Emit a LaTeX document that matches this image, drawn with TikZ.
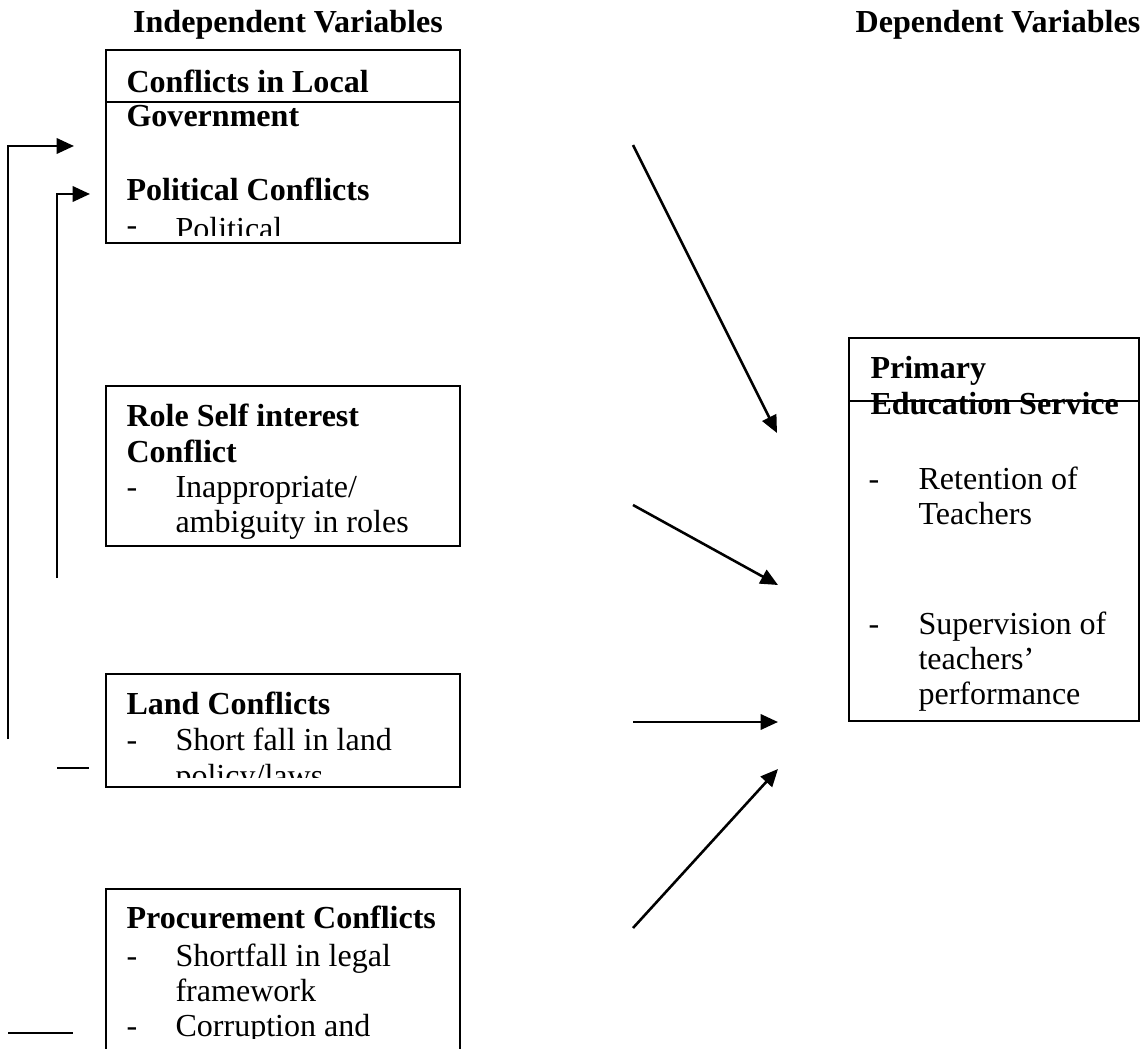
\documentclass[tikz,border=0pt]{standalone}
\usepackage{fontspec}
\setmainfont{Liberation Serif}
\usetikzlibrary{arrows.meta}
\usetikzlibrary{calc}

\def\px{0.39pt}
\tikzstyle{varbox}=[draw, line width=0.8pt, anchor=north west, inner sep=0pt, minimum width=354*\px]
\tikzstyle{txt}=[anchor=base west, inner sep=0pt, font=\fontsize{12.5}{14}\selectfont]
\tikzstyle{head}=[anchor=base, inner sep=0pt, font=\fontsize{12.5}{14}\selectfont\bfseries]
\tikzstyle{link}=[line width=1pt, -{Triangle[length=6.8pt,width=6pt]}]
\tikzstyle{plain}=[line width=1pt]

\begin{document}
\begin{tikzpicture}[x=\px, y=-\px]
\clip (0,0) rectangle (1147,1049);

%Headings
\node[head] (indep) at (288,33) {Independent Variables};
\node[head] (dep) at (998,33) {Dependent Variables};

%Boxes
\foreach \pos/\name/\h in {{(105,49)/conf/193}, {(105,385)/role/160}, {(105,673)/land/113}, {(105,888)/proc/180}}
    \node[varbox, minimum height=\h*\px] (\name) at \pos {};
\node[varbox, minimum width=290*\px, minimum height=383*\px] (pes) at (848,337) {};

%Conflicts in local government
\begin{scope}
\clip (conf.north west) rectangle ($(conf.south east)+(0,-9)$);
\foreach \x/\y/\t [count=\i] in {126/93/{\bfseries Conflicts in Local}, 126/127/{\bfseries Government}, 126/201/{\bfseries Political Conflicts}, 126/235/-, 175/240/Political}
    \node[txt] (conf\i) at (\x,\y) {\t};
\end{scope}
\draw[line width=0.8pt] ($(conf.north west)+(0,53)$) -- ($(conf.north east)+(0,53)$);

%Role
\begin{scope}
\clip (role.north west) rectangle ($(role.south east)+(0,-8)$);
\foreach \x/\y/\t [count=\i] in {126/426/{\bfseries Role Self interest}, 126/462/{\bfseries Conflict}, 126/497/-, 175/497/{Inappropriate/}, 175/532/ambiguity in roles}
    \node[txt] (role\i) at (\x,\y) {\t};
\end{scope}

%Land
\begin{scope}
\clip (land.north west) rectangle ($(land.south east)+(0,-11)$);
\foreach \x/\y/\t [count=\i] in {126/714/{\bfseries Land Conflicts}, 126/750/-, 175/750/Short fall in land, 175/786/{policy/laws}}
    \node[txt] (land\i) at (\x,\y) {\t};
\end{scope}

%Procurement
\begin{scope}
\clip (proc.north west) rectangle ($(proc.north east)+(0,150)$);
\foreach \x/\y/\t [count=\i] in {126/928/{\bfseries Procurement Conflicts}, 126/966/-, 175/966/Shortfall in legal, 175/1001/framework, 126/1036/-, 175/1036/Corruption and}
    \node[txt] (proc\i) at (\x,\y) {\t};
\end{scope}

%Primary education service
\foreach \x/\y/\t [count=\i] in {870/379/{\bfseries Primary}, 870/414/{\bfseries Education Service}, 868/489/-, 918/489/Retention of, 918/524/Teachers, 868/634/-, 918/634/Supervision of, 918/669/teachers', 918/704/performance}
    \node[txt] (pes\i) at (\x,\y) {\t};
\draw[line width=0.8pt] ($(pes.north west)+(0,64)$) -- ($(pes.north east)+(0,64)$);

%Side lines
\coordinate (o1) at (8,739);
\coordinate (o2) at (74,146);
\coordinate (i1) at (57,578);
\coordinate (i2) at (90,194);
\draw[link] (o1) |- (o2);
\draw[link] (i1) |- (i2);
\coordinate (l1) at (57,768);
\coordinate (l2) at (89,768);
\coordinate (p1) at (8,1033);
\coordinate (p2) at (73,1033);
\draw[plain] (l1) -- (l2);
\draw[plain] (p1) -- (p2);

%Arrows to dependent variable
\foreach \a/\b/\c/\d [count=\i] in {633/145/777/433, 633/505/778/585, 633/722/778/722, 633/928/778/769}
{
    \coordinate (s\i) at (\a,\b);
    \coordinate (e\i) at (\c,\d);
    \draw[link] (s\i) -- (e\i);
}

\end{tikzpicture}
\end{document}
